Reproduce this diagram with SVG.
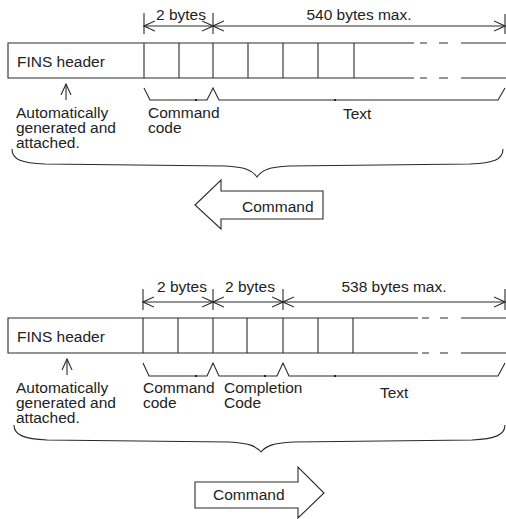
<svg xmlns="http://www.w3.org/2000/svg" width="506" height="519" viewBox="0 0 506 519">
<defs>
<style>
.ln{fill:none;stroke:#2a2a2a;stroke-width:1.1}
.ar{fill:#fff;stroke:#2a2a2a;stroke-width:1.1}
.t{font-family:"Liberation Sans",Arial,sans-serif;font-size:15.5px;fill:#222}
.m{text-anchor:middle}
.dot{fill:#222}
</style>
<marker id="oa" viewBox="0 0 12 12" refX="11" refY="6" markerWidth="12" markerHeight="12" markerUnits="userSpaceOnUse" orient="auto-start-reverse">
<path d="M0,1 L11,6 L0,11" fill="none" stroke="#2a2a2a" stroke-width="1.1"/>
</marker>
</defs>
<rect width="506" height="519" fill="#fff"/>

<!-- TOP: command frame -->
<g id="top-frame">
<path class="ln" d="M506,43 H8 V78 H506 M144,43 V78 M179,43 V78 M213,43 V78 M248,43 V78 M283,43 V78 M318,43 V78 M354,43 V78"/>
<rect x="414" y="40" width="47" height="41" fill="#fff"/>
<path class="ln" d="M420,43 H427 M439,43 H448 M420,78 H427 M439,78 H448"/>
<text class="t" x="17" y="67">FINS header</text>
</g>
<g id="top-dims">
<path class="ln" d="M144,13 V34 M213,13 V34 M505,14 V34"/>
<text class="t m" x="181" y="20">2 bytes</text>
<text class="t m" x="359" y="20">540 bytes max.</text>
</g>
<g id="top-labels">
<text class="t" x="16" y="118">Automatically<tspan x="16" dy="15">generated and</tspan><tspan x="16" dy="15">attached.</tspan></text>
<text class="t" x="148" y="118">Command<tspan x="148" dy="15">code</tspan></text>
<text class="t" x="343" y="119">Text</text>
</g>
<g id="top-arrow">
<path class="ar" d="M323,191 H221 V180 L195,205 L221,229 V219 H323 Z"/>
<text class="t" x="242" y="212">Command</text>
</g>

<!-- BOTTOM: response frame -->
<g id="bottom-frame">
<path class="ln" d="M506,318 H8 V353 H506 M143,318 V353 M178,318 V353 M213,318 V353 M247,318 V353 M283,318 V353 M318,318 V353 M353,318 V353"/>
<rect x="418" y="315" width="43" height="41" fill="#fff"/>
<path class="ln" d="M422,318 H429 M440,318 H448 M422,353 H429 M440,353 H448"/>
<text class="t" x="17" y="342">FINS header</text>
</g>
<g id="bottom-dims">
<path class="ln" d="M143,289 V310 M213,289 V310 M283,289 V310 M505,289 V310"/>
<text class="t m" x="182" y="292">2 bytes</text>
<text class="t m" x="250" y="292">2 bytes</text>
<text class="t m" x="394" y="292">538 bytes max.</text>
</g>
<g id="bottom-labels">
<text class="t" x="16" y="393">Automatically<tspan x="16" dy="15">generated and</tspan><tspan x="16" dy="15">attached.</tspan></text>
<text class="t" x="143" y="393">Command<tspan x="143" dy="15">code</tspan></text>
<text class="t" x="224" y="393">Completion<tspan x="224" dy="15">Code</tspan></text>
<text class="t" x="380" y="398">Text</text>
</g>
<g id="bottom-arrow">
<path class="ar" d="M195,482 H298 V467 L324,493 L298,518 V508 H195 Z"/>
<text class="t" x="213" y="500">Command</text>
</g>

<!-- connectors: dimension arrows, pointers and braces -->
<g id="connectors">
<line class="ln" x1="144" y1="26" x2="213" y2="26" marker-start="url(#oa)" marker-end="url(#oa)"/>
<line class="ln" x1="213" y1="26" x2="505" y2="26" marker-start="url(#oa)" marker-end="url(#oa)"/>
<line class="ln" x1="66" y1="100" x2="66" y2="84" marker-end="url(#oa)"/>
<path class="ln" d="M144,88 L150,100 H207 L213,88 L219,100 H498 L505,88"/>
<rect class="dot" x="195" y="99" width="2" height="2"/>
<rect class="dot" x="334" y="99" width="2" height="2"/>
<path class="ln" d="M12,149 C12,160 22,163 45,164 L225,166 C245,167 252,170 257,177 C262,170 269,167 289,166 L470,164 C493,163 503,160 503,149"/>

<line class="ln" x1="143" y1="302" x2="213" y2="302" marker-start="url(#oa)" marker-end="url(#oa)"/>
<line class="ln" x1="213" y1="302" x2="283" y2="302" marker-start="url(#oa)" marker-end="url(#oa)"/>
<line class="ln" x1="283" y1="302" x2="505" y2="302" marker-start="url(#oa)" marker-end="url(#oa)"/>
<line class="ln" x1="67" y1="375" x2="67" y2="359" marker-end="url(#oa)"/>
<path class="ln" d="M143,363 L149,376 H207 L213,363 L219,376 H277 L283,363 L289,376 H498 L505,363"/>
<rect class="dot" x="195" y="375" width="2" height="2"/>
<rect class="dot" x="264" y="375" width="2" height="2"/>
<rect class="dot" x="334" y="375" width="2" height="2"/>
<path class="ln" d="M14,425 C14,435 24,439 47,440 L229,442 C249,443 256,446 261,452 C266,446 273,443 293,442 L472,440 C495,439 505,435 505,425"/>
</g>
</svg>
